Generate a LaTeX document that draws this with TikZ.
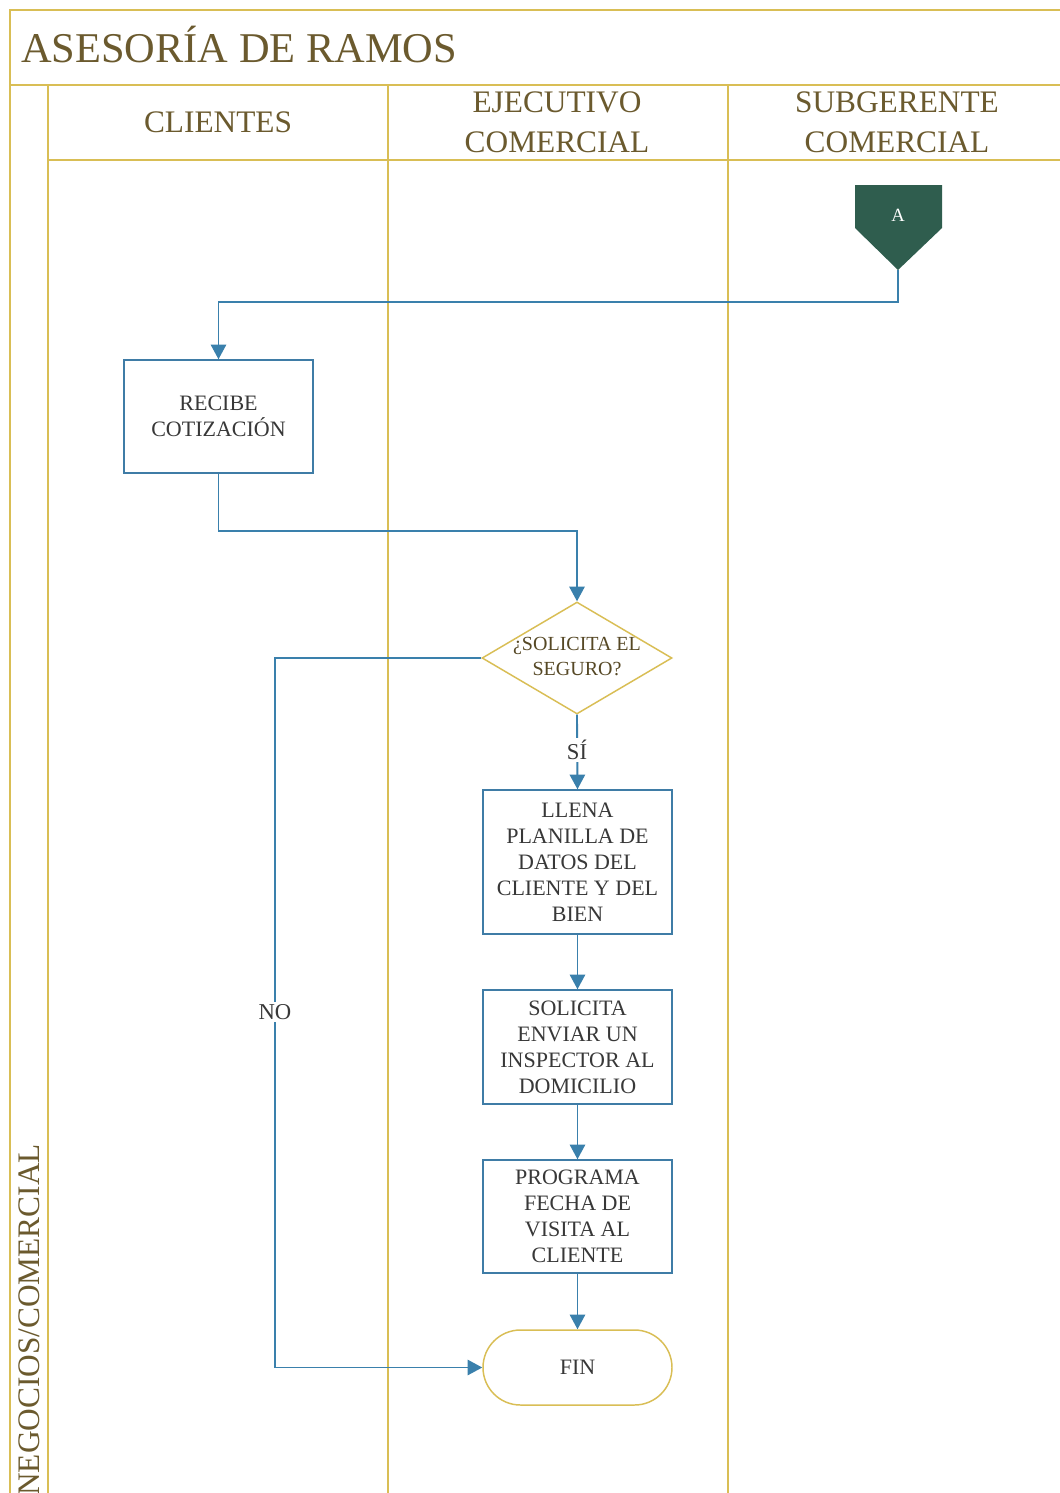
\documentclass[tikz,border=0pt]{standalone}
\usepackage{fontspec}
\setmainfont{Liberation Serif}
\usetikzlibrary{arrows.meta,shapes.geometric,shapes.misc}

\definecolor{lanegold}{HTML}{D9BE55}
\definecolor{headtext}{HTML}{6B5A2E}
\definecolor{boxblue}{HTML}{3F7CA6}
\definecolor{flowblue}{HTML}{3A80AC}
\definecolor{boxtext}{HTML}{383838}
\definecolor{pagegreen}{HTML}{2F5D4E}

\tikzset{
  lane/.style={draw=lanegold, line width=1.6pt},
  headlabel/.style={text=headtext, font=\fontsize{23.5}{30}\selectfont, align=center, inner sep=0pt},
  stepbox/.style={draw=boxblue, line width=1.1pt, fill=white, align=center,
    text=boxtext, font=\fontsize{16.5}{19.5}\selectfont, inner sep=0pt,
    minimum width={189*0.75pt}},
  decision/.style={diamond, draw=lanegold, line width=1.1pt, fill=white, inner sep=0pt,
    minimum width={190*0.75pt}, minimum height={112*0.75pt}},
  dtext/.style={text=headtext!80!black, font=\fontsize{15}{18.75}\selectfont, align=center, inner sep=0pt},
  terminal/.style={rounded rectangle, draw=lanegold, line width=1.1pt, fill=white,
    text=boxtext, font=\fontsize{16.5}{19.5}\selectfont, inner sep=0pt,
    minimum width={189*0.75pt}, minimum height={75*0.75pt}},
  flow/.style={draw=flowblue, line width=1.4pt, -{Triangle[width=11.5pt,length=11pt]}},
  flowlabel/.style={fill=white, text=boxtext, font=\fontsize{17}{19}\selectfont, inner sep=1.5pt},
}

\begin{document}
\begin{tikzpicture}[x=0.75pt, y=-0.75pt]
\useasboundingbox (0,0) rectangle (1060,1493);
\fill[white] (0,0) rectangle (1060,1493);

% pool frame, title band and lanes
\draw[lane] (10,1493) -- (10,10) -- (1060,10);
\draw[lane] (10,85) -- (1060,85);
\draw[lane] (48,85) -- (48,1493);
\draw[lane] (48,160) -- (1060,160);
\draw[lane] (388,85) -- (388,1493);
\draw[lane] (728,85) -- (728,1493);

\node[text=headtext, font=\fontsize{31.8}{36}\selectfont, anchor=base west, inner sep=0pt]
  (title) at (21,62) {ASESORÍA DE RAMOS};
\node[headlabel] (hcli) at (218,122) {CLIENTES};
\node[headlabel] (hejec) at (557,122) {EJECUTIVO\\COMERCIAL};
\node[headlabel] (hsub) at (897,122) {SUBGERENTE\\COMERCIAL};
\node[text=headtext, font=\fontsize{23.5}{30}\selectfont, rotate=90, anchor=west, inner sep=0pt]
  (pool) at (29,1496) {NEGOCIOS/COMERCIAL};

% off-page connector
\fill[pagegreen] (855,185) -- (942,185) -- (942,228) -- (898,270) -- (855,228) -- cycle;
\coordinate (Atip) at (898,270);
\node[text=white, font=\fontsize{14}{16}\selectfont, inner sep=0pt] (A) at (898,215) {A};

% process steps
\node[stepbox, minimum height={113*0.75pt}] (recibe) at (218.5,416.5) {RECIBE\\COTIZACIÓN};
\node[decision] (dec) at (577,658) {};
\node[dtext] (dectext) at (577,657) {¿SOLICITA EL\\SEGURO?};
\node[stepbox, minimum height={144*0.75pt}] (llena) at (577.5,862)
  {LLENA\\PLANILLA DE\\DATOS DEL\\CLIENTE Y DEL\\BIEN};
\node[stepbox, minimum height={114*0.75pt}] (solicita) at (577.5,1047)
  {SOLICITA\\ENVIAR UN\\INSPECTOR AL\\DOMICILIO};
\node[stepbox, minimum height={113*0.75pt}] (programa) at (577.5,1216.5)
  {PROGRAMA\\FECHA DE\\VISITA AL\\CLIENTE};
\node[terminal] (fin) at (577.5,1367.5) {FIN};

% connectors
\draw[flow] (Atip) -- ++(0,32) -| (recibe.north);
\draw[flow] (recibe.south) -- ++(0,57) -| (dec.north);
\coordinate (nocorner) at (275,658);
\draw[flow] (dec.west) -- (nocorner) |- (fin.west);
\node[flowlabel] (no) at (275,1012) {NO};
\draw[flow] (dec.south) -- (llena.north);
\node[flowlabel] (si) at (577,750) {SÍ};
\draw[flow] (llena.south) -- (solicita.north);
\draw[flow] (solicita.south) -- (programa.north);
\draw[flow] (programa.south) -- (fin.north);
\end{tikzpicture}
\end{document}
